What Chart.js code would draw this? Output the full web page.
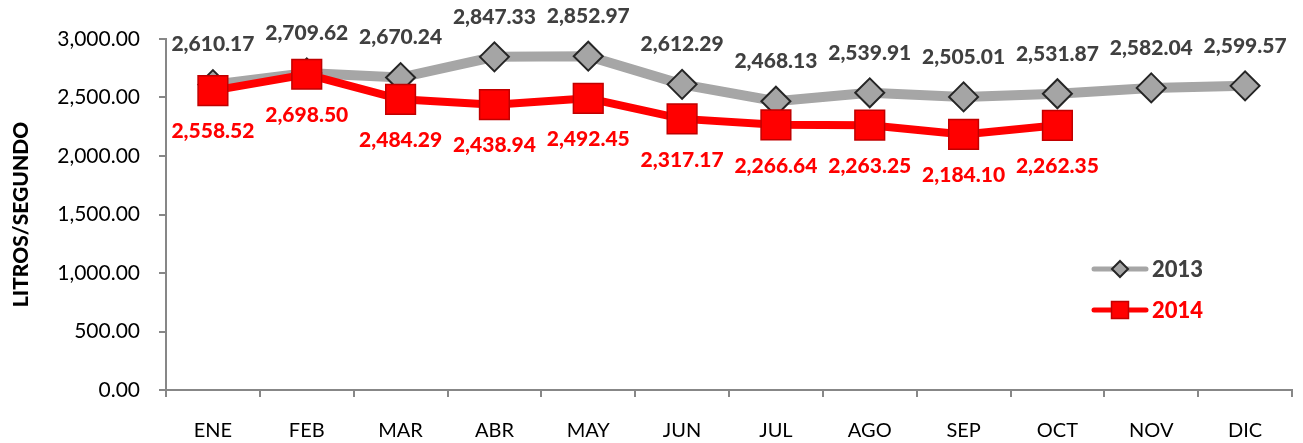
<!DOCTYPE html>
<html>
<head>
<meta charset="utf-8">
<script src="https://cdn.jsdelivr.net/npm/chart.js@4.4.1/dist/chart.umd.min.js"></script>
<style>
  html, body { margin: 0; padding: 0; background: #fff; }
  canvas { display: block; }
</style>
</head>
<body>
<canvas id="chartLitros" width="1303" height="443"></canvas>
<script>
// datos
const meses = ['ENE', 'FEB', 'MAR', 'ABR', 'MAY', 'JUN', 'JUL', 'AGO', 'SEP', 'OCT', 'NOV', 'DIC'];
const litros2013 = [2610.17, 2709.62, 2670.24, 2847.33, 2852.97, 2612.29, 2468.13, 2539.91, 2505.01, 2531.87, 2582.04, 2599.57];
const litros2014 = [2558.52, 2698.50, 2484.29, 2438.94, 2492.45, 2317.17, 2266.64, 2263.25, 2184.10, 2262.35, null, null];
const ticksY = [0, 500, 1000, 1500, 2000, 2500, 3000];

const FUENTE = 'Lato, "Open Sans", sans-serif';
const fmt = v => v.toLocaleString('en-US', { minimumFractionDigits: 2, maximumFractionDigits: 2 });

// marcador (diamante o cuadro) para la leyenda
function marcador(ctx, tipo, x, y, r, fill, stroke, lw) {
  ctx.save();
  ctx.beginPath();
  if (tipo === 'rectRot') {
    ctx.moveTo(x, y - r); ctx.lineTo(x + r, y); ctx.lineTo(x, y + r); ctx.lineTo(x - r, y);
    ctx.closePath();
  } else {
    ctx.rect(x - r, y - r, 2 * r, 2 * r);
  }
  ctx.fillStyle = fill; ctx.fill();
  ctx.lineWidth = lw; ctx.strokeStyle = stroke; ctx.stroke();
  ctx.restore();
}

// etiquetas de valores
const etiquetas = {
  id: 'etiquetas',
  afterDatasetsDraw(chart) {
    const ctx = chart.ctx;
    chart.data.datasets.forEach((ds, i) => {
      const meta = chart.getDatasetMeta(i);
      ctx.save();
      ctx.font = '900 21px ' + FUENTE;
      ctx.fillStyle = ds.colorTexto;
      ctx.textAlign = 'center';
      ctx.textBaseline = 'middle';
      meta.data.forEach((pt, j) => {
        const v = ds.data[j];
        if (v == null) return;
        ctx.fillText(fmt(v), pt.x, pt.y + ds.despTexto);
      });
      ctx.restore();
    });
  }
};

// leyenda dentro del area
const leyenda = {
  id: 'leyenda',
  afterDraw(chart) {
    const ctx = chart.ctx;
    const filas = [{ ds: chart.data.datasets[1], y: 269 }, { ds: chart.data.datasets[0], y: 310 }];
    filas.forEach(f => {
      const ds = f.ds;
      ctx.save();
      ctx.strokeStyle = ds.borderColor;
      ctx.lineWidth = 5;
      ctx.lineCap = 'round';
      ctx.beginPath(); ctx.moveTo(1094, f.y); ctx.lineTo(1146, f.y); ctx.stroke();
      if (ds.pointStyle === 'rectRot') marcador(ctx, 'rectRot', 1120, f.y, 8, ds.pointBackgroundColor, ds.pointBorderColor, 2);
      else marcador(ctx, 'rect', 1120, f.y, 8.5, ds.pointBackgroundColor, ds.pointBorderColor, 1.5);
      ctx.font = '900 22px ' + FUENTE;
      ctx.fillStyle = ds.colorTexto;
      ctx.textAlign = 'left';
      ctx.textBaseline = 'middle';
      ctx.fillText(ds.label, 1152, f.y + 1);
      ctx.restore();
    });
  }
};

const ejeColor = '#878787';

new Chart(document.getElementById('chartLitros').getContext('2d'), {
  type: 'line',
  data: {
    labels: meses,
    datasets: [{
      label: '2014',
      data: litros2014,
      borderColor: '#ff0000',
      borderWidth: 8,
      pointStyle: 'rect',
      pointRadius: 21,
      pointBackgroundColor: '#ff0000',
      pointBorderColor: '#c00000',
      pointBorderWidth: 1.5,
      colorTexto: '#ff0000',
      despTexto: 41,
      tension: 0
    }, {
      label: '2013',
      data: litros2013,
      borderColor: '#a6a6a6',
      borderWidth: 10,
      pointStyle: 'rectRot',
      pointRadius: 14.5,
      pointBackgroundColor: '#a5a5a5',
      pointBorderColor: '#262626',
      pointBorderWidth: 2,
      colorTexto: '#404040',
      despTexto: -40,
      tension: 0
    }]
  },
  options: {
    responsive: false,
    animation: false,
    layout: { autoPadding: false, padding: { top: 39, right: 11, left: 0, bottom: 0 } },
    plugins: { legend: { display: false }, tooltip: { enabled: false } },
    scales: {
      x: {
        offset: true,
        grid: { offset: true, drawOnChartArea: false, drawTicks: true, tickLength: 7, color: ejeColor, lineWidth: 2 },
        border: { color: ejeColor, width: 2 },
        ticks: { color: '#000', font: { family: FUENTE, size: 20 }, padding: 22, maxRotation: 0 },
        afterFit: s => { s.height = 53; s.paddingLeft = 0; s.paddingRight = 0; }
      },
      y: {
        min: 0,
        max: 3000,
        afterBuildTicks: s => { s.ticks = ticksY.map(v => ({ value: v })); },
        grid: { drawOnChartArea: false, drawTicks: true, tickLength: 7, color: ejeColor, lineWidth: 2 },
        border: { color: ejeColor, width: 2 },
        ticks: { color: '#000', font: { family: FUENTE, size: 21 }, padding: 19, callback: v => fmt(v) },
        title: { display: true, text: 'LITROS/SEGUNDO', color: '#000', font: { family: FUENTE, size: 21, weight: '900' }, padding: { top: 9, bottom: 0 } },
        afterFit: s => { s.width = 166; }
      }
    }
  },
  plugins: [etiquetas, leyenda]
});
</script>
</body>
</html>
